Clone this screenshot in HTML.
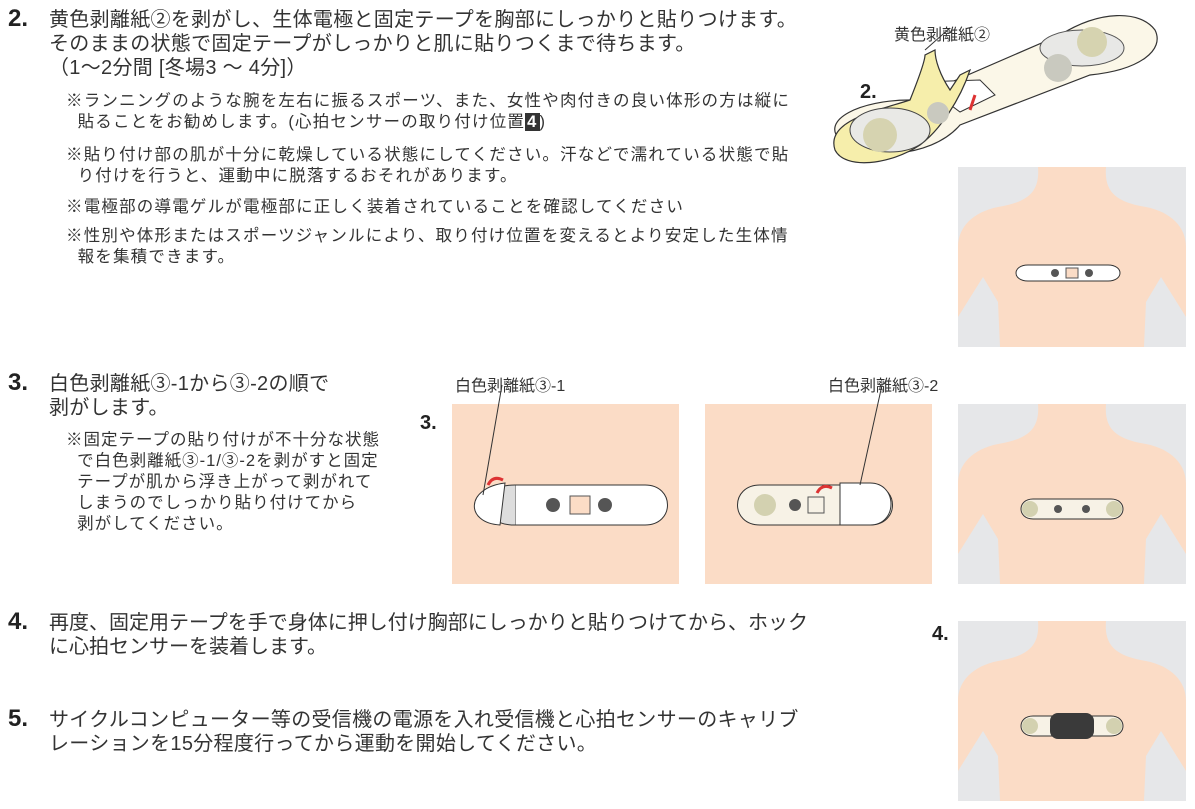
<!DOCTYPE html>
<html><head><meta charset="utf-8"><style>
body{margin:0;width:1195px;height:809px;background:#fff;position:relative;overflow:hidden;font-family:"Liberation Sans","Noto Sans CJK JP",sans-serif;color:#333}
.t{position:absolute;white-space:nowrap}
.n{font-weight:bold;font-size:24px;color:#222}
.m{font-size:20px;line-height:24px;letter-spacing:0.3px}
.s{font-size:16.5px;line-height:21px;letter-spacing:1.2px}
.p{position:absolute}
</style></head><body>
<div class="t n" style="left:8px;top:5px">2.</div>
<div class="t m" style="left:49px;top:8px">黄色剥離紙②を剥がし、生体電極と固定テープを胸部にしっかりと貼りつけます。<br>そのままの状態で固定テープがしっかりと肌に貼りつくまで待ちます。<br>（1～2分間 [冬場3 ～ 4分]）</div>
<div class="t s" style="left:66px;top:91px">※ランニングのような腕を左右に振るスポーツ、また、女性や肉付きの良い体形の方は縦に<br>&nbsp;&nbsp;貼ることをお勧めします。(心拍センサーの取り付け位置<span style="background:#333;color:#fff;font-weight:bold;padding:0 2px">4</span>)</div>
<div class="t s" style="left:66px;top:145px">※貼り付け部の肌が十分に乾燥している状態にしてください。汗などで濡れている状態で貼<br>&nbsp;&nbsp;り付けを行うと、運動中に脱落するおそれがあります。</div>
<div class="t s" style="left:66px;top:197px">※電極部の導電ゲルが電極部に正しく装着されていることを確認してください</div>
<div class="t s" style="left:66px;top:226px">※性別や体形またはスポーツジャンルにより、取り付け位置を変えるとより安定した生体情<br>&nbsp;&nbsp;報を集積できます。</div>

<div class="t n" style="left:8px;top:369px">3.</div>
<div class="t m" style="left:49px;top:372px">白色剥離紙③-1から③-2の順で<br>剥がします。</div>
<div class="t s" style="left:66px;top:430px;letter-spacing:1px">※固定テープの貼り付けが不十分な状態<br>&nbsp;&nbsp;で白色剥離紙③-1/③-2を剥がすと固定<br>&nbsp;&nbsp;テープが肌から浮き上がって剥がれて<br>&nbsp;&nbsp;しまうのでしっかり貼り付けてから<br>&nbsp;&nbsp;剥がしてください。</div>

<div class="t n" style="left:8px;top:608px">4.</div>
<div class="t m" style="left:49px;top:611px;letter-spacing:0">再度、固定用テープを手で身体に押し付け胸部にしっかりと貼りつけてから、ホック<br>に心拍センサーを装着します。</div>
<div class="t n" style="left:8px;top:705px">5.</div>
<div class="t m" style="left:49px;top:708px">サイクルコンピューター等の受信機の電源を入れ受信機と心拍センサーのキャリブ<br>レーションを15分程度行ってから運動を開始してください。</div>

<!-- step 2 strap illustration -->
<svg class="p" style="left:820px;top:0" width="375" height="170">
<path d="M20 140 C0 120 40 100 90 100 L240 35 C280 10 320 10 335 30 C345 50 320 70 270 75 L140 125 C110 160 40 160 20 140Z" fill="#fbf7e8" stroke="#333" stroke-width="1.2"/>
<ellipse cx="262" cy="48" rx="42" ry="18" fill="#e8e8e6" stroke="#555"/>
<circle cx="238" cy="68" r="14" fill="#c9c9bf"/>
<circle cx="272" cy="42" r="15" fill="#d6d3b0"/>
<path d="M100 82 L160 80 L175 95 L140 112 Z" fill="#fff" stroke="#333"/>
<path d="M15 150 C5 120 60 110 90 100 C100 75 105 60 105 55 L115 50 C115 60 120 75 130 90 L140 75 L150 70 C140 100 120 130 100 145 C70 165 25 170 15 150Z" fill="#f6eeab" stroke="#333" stroke-width="1.2"/>
<ellipse cx="70" cy="130" rx="40" ry="22" fill="#e9e9e6" stroke="#444"/>
<circle cx="60" cy="135" r="17" fill="#d6d3b0"/>
<circle cx="118" cy="113" r="11" fill="#c9c9bf"/>
<path d="M155 95 L150 110" stroke="#d33" stroke-width="3"/>
<line x1="105" y1="50" x2="130" y2="28" stroke="#333"/>
<text x="74" y="40" font-size="16" fill="#333" font-family="Liberation Sans,Noto Sans CJK JP,sans-serif">黄色剥離紙②</text>
<text x="40" y="98" font-size="20" fill="#222" font-weight="bold" font-family="Liberation Sans,sans-serif">2.</text>
</svg>

<!-- chest panels -->
<svg width="0" height="0" style="position:absolute"><defs>
<g id="chest"><rect width="228" height="180" fill="#e6e7e9"/>
<path d="M80 0 C82 25 70 35 40 40 C15 45 0 60 0 80 L0 150 L25 110 L40 135 L42 180 L186 180 L188 135 L203 110 L228 150 L228 80 C228 60 213 45 188 40 C158 35 146 25 148 0Z" fill="#fbdcc6"/></g>
</defs></svg>
<svg class="p" style="left:958px;top:167px" width="228" height="180"><use href="#chest"/>
<path d="M70 98 h80 c16 0 16 16 0 16 h-80 c-16 0 -16 -16 0 -16z" fill="#fff" stroke="#333"/>
<circle cx="97" cy="106" r="4" fill="#555"/><circle cx="131" cy="106" r="4" fill="#555"/><rect x="108" y="101" width="12" height="10" fill="#fbdcc6" stroke="#555"/></svg>
<svg class="p" style="left:958px;top:404px" width="228" height="180"><use href="#chest"/>
<path d="M75 95 h78 c16 0 16 20 0 20 h-78 c-16 0 -16 -20 0 -20z" fill="#f7f2e6" stroke="#333"/>
<circle cx="72" cy="105" r="8" fill="#d3d1b0"/><circle cx="156" cy="105" r="8" fill="#d3d1b0"/>
<circle cx="100" cy="105" r="4" fill="#555"/><circle cx="128" cy="105" r="4" fill="#555"/></svg>
<svg class="p" style="left:958px;top:621px" width="228" height="180"><use href="#chest"/>
<path d="M75 95 h78 c16 0 16 20 0 20 h-78 c-16 0 -16 -20 0 -20z" fill="#f7f2e6" stroke="#333"/>
<circle cx="72" cy="105" r="8" fill="#d3d1b0"/><circle cx="156" cy="105" r="8" fill="#d3d1b0"/>
<rect x="92" y="92" width="44" height="26" rx="8" fill="#3a3a3a"/></svg>
<div class="t n" style="left:932px;top:623px;font-size:20px">4.</div>

<!-- step 3 panels -->
<div class="t" style="left:455px;top:372px;font-size:16px">白色剥離紙③-1</div>
<div class="t" style="left:828px;top:372px;font-size:16px">白色剥離紙③-2</div>
<div class="t n" style="left:420px;top:412px;font-size:20px">3.</div>
<svg class="p" style="left:420px;top:385px" width="540" height="200">
<rect x="32" y="19" width="227" height="180" fill="#fbdcc6"/>
<rect x="285" y="19" width="227" height="180" fill="#fbdcc6"/>
<path d="M95 100 h130 c30 0 30 40 0 40 h-130z" fill="#fff" stroke="#333"/>
<path d="M95 100 c-40 0 -40 40 0 40" fill="#ddd" stroke="#333"/>
<path d="M85 98 c-40 5 -40 40 -5 42z" fill="#fff" stroke="#333"/>
<circle cx="133" cy="120" r="7" fill="#555"/><circle cx="185" cy="120" r="7" fill="#555"/><rect x="150" y="111" width="20" height="18" fill="#fbdcc6" stroke="#555"/>
<path d="M340 100 h110 c30 0 30 40 0 40 h-110 c-30 0 -30 -40 0 -40z" fill="#f7f2e6" stroke="#333"/>
<path d="M420 98 h30 c28 0 28 42 0 42 h-30z" fill="#fff" stroke="#333"/>
<circle cx="345" cy="120" r="11" fill="#d3d1b0"/><circle cx="375" cy="120" r="6" fill="#555"/><rect x="388" y="112" width="16" height="16" fill="#f7f2e6" stroke="#555"/>
<path d="M68 100 q5 -10 15 -5" stroke="#d33" stroke-width="3" fill="none"/>
<path d="M397 108 q5 -10 15 -5" stroke="#d33" stroke-width="3" fill="none"/>
<line x1="82" y1="0" x2="63" y2="110" stroke="#333"/>
<line x1="462" y1="0" x2="440" y2="100" stroke="#333"/>
</svg>
</body></html>
